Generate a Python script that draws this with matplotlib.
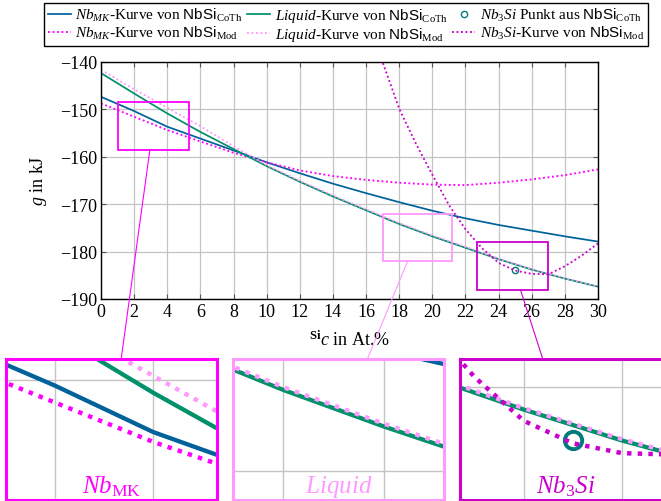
import numpy as np
import matplotlib
matplotlib.use("Agg")
import matplotlib.pyplot as plt
from matplotlib.patches import Rectangle
from matplotlib.lines import Line2D
from matplotlib.ticker import MultipleLocator

plt.rcParams['font.family'] = ['Liberation Serif', 'DejaVu Serif']
plt.rcParams['mathtext.fontset'] = 'custom'
plt.rcParams['mathtext.rm'] = 'Liberation Serif'
plt.rcParams['mathtext.it'] = 'Liberation Serif:italic'
plt.rcParams['mathtext.bf'] = 'Liberation Serif:bold'
plt.rcParams['mathtext.sf'] = 'Liberation Sans'

# ---------------- data ----------------
x = [0, 2, 4, 6, 8, 10, 12, 14, 16, 18, 20, 22, 24, 26, 28, 30]
nbmk_coth = [-147.4, -150.4, -153.7, -156.2, -158.7, -161.2, -163.5, -165.7,
             -167.7, -169.6, -171.4, -173.0, -174.4, -175.6, -176.8, -177.9]
liquid_coth = [-142.4, -146.7, -150.9, -154.8, -158.4, -162.0, -165.3, -168.4,
               -171.3, -174.2, -176.8, -179.2, -181.6, -183.8, -185.7, -187.4]
nbmk_mod = [-148.8, -151.6, -154.4, -156.8, -159.2, -161.2, -162.9, -164.1,
            -164.9, -165.5, -165.9, -166.0, -165.5, -164.8, -163.9, -162.7]
liquid_mod = [-141.7, -145.8, -149.7, -153.6, -157.8, -161.8, -165.1, -168.2,
              -171.1, -174.0, -176.6, -179.0, -181.5, -183.7, -185.6, -187.4]
x_nb3si = [16, 17, 18, 19, 20, 21, 22, 23, 24, 25, 26, 27, 28, 29, 30]
nb3si_mod = [-129.5, -140.1, -149.9, -157.2, -163.8, -170.2, -175.3, -179.3,
             -182.4, -184.0, -184.7, -184.8, -183.1, -180.9, -178.3]
nb3si_point_x = [25.0]
nb3si_point_y = [-183.8]

xticks = list(range(0, 31, 2))
yticks = [-190, -180, -170, -160, -150, -140]

# spy regions: (x0, x1, y0, y1)
spy_regions = [(1.0, 5.3, -158.5, -148.5),
               (17.0, 21.2, -182.0, -172.0),
               (22.7, 27.0, -188.0, -178.0)]
spy_labels = [r'$Nb_{\mathrm{MK}}$', r'$\mathit{Liquid}$', r'$Nb_3Si$']

# ---------------- styles ----------------
c_blue = '#00629b'
c_green = '#00906a'
c_mag = '#ff00ff'
c_pink = '#ff99ff'
c_dmag = '#cc00cc'
c_teal = '#007b7b'
c_grid = '#c4c4c4'
dot = (0, (1, 1.4))
spy_colors = [c_mag, c_pink, c_dmag]

W, H = 661, 502
fig = plt.figure(figsize=(W / 100, H / 100), dpi=100)

def fx(px):
    return px / W

def fy(py):
    return 1 - py / H

ax = fig.add_axes([fx(101), fy(300), fx(598) - fx(101), fy(62.7) - fy(300)])


def draw_curves(a, lw_solid, lw_dot, ms, mew, labels=True):
    a.plot(x, nbmk_coth, color=c_blue, lw=lw_solid,
           label=r'$Nb_{MK}$-Kurve von $\mathsf{NbSi}_{\mathrm{CoTh}}$' if labels else None)
    a.plot(x, nbmk_mod, color=c_mag, lw=lw_dot, ls=dot,
           label=r'$Nb_{MK}$-Kurve von $\mathsf{NbSi}_{\mathrm{Mod}}$' if labels else None)
    a.plot(x, liquid_coth, color=c_green, lw=lw_solid,
           label=r'$\mathit{Liquid}$-Kurve von $\mathsf{NbSi}_{\mathrm{CoTh}}$' if labels else None)
    a.plot(x, liquid_mod, color=c_pink, lw=lw_dot, ls=dot,
           label=r'$\mathit{Liquid}$-Kurve von $\mathsf{NbSi}_{\mathrm{Mod}}$' if labels else None)
    a.plot(nb3si_point_x, nb3si_point_y, ls='none', marker='o', ms=ms,
           mfc='none', mec=c_teal, mew=mew,
           label=r'$Nb_3Si$ Punkt aus $\mathsf{NbSi}_{\mathrm{CoTh}}$' if labels else None)
    a.plot(x_nb3si, nb3si_mod, color=c_dmag, lw=lw_dot, ls=dot,
           label=r'$Nb_3Si$-Kurve von $\mathsf{NbSi}_{\mathrm{Mod}}$' if labels else None)


draw_curves(ax, 1.25, 1.35, 4.5, 1.0)
ax.set_xlim(0, 30)
ax.set_ylim(-190, -140)
ax.set_xticks(xticks)
ax.set_yticks(yticks)
ax.grid(True, color=c_grid, lw=0.9)
ax.set_axisbelow(True)
ax.tick_params(direction='in', top=True, right=True, length=3.5, width=0.8,
               labelsize=13, color='#555555', pad=3)
for s in ax.spines.values():
    s.set_linewidth(1.0)
ax.set_xlabel(r'${}^{\mathbf{Si}}c$ in At.%', fontsize=13, labelpad=7)
ax.set_ylabel(r'$g$ in kJ', fontsize=13, labelpad=8)

for (x0, x1, y0, y1), col in zip(spy_regions, spy_colors):
    ax.add_patch(Rectangle((x0, y0), x1 - x0, y1 - y0, fill=False, ec=col,
                           lw=1.3, zorder=5))

leg = ax.legend(ncol=3, loc='upper center', bbox_to_anchor=(fx(346), fy(4)),
                bbox_transform=fig.transFigure, fontsize=11, frameon=True,
                fancybox=False, edgecolor='black', framealpha=1,
                handlelength=1.5, handletextpad=0.3, columnspacing=0.3,
                labelspacing=0.05, borderpad=0.22, borderaxespad=0)
leg.get_frame().set_linewidth(1.0)

# insets
inset_x = [6, 233, 460]
insets = []
for i, ((x0, x1, y0, y1), col, lab) in enumerate(zip(spy_regions, spy_colors, spy_labels)):
    ia = fig.add_axes([fx(inset_x[i]), fy(500.5), 211 / W, 140.5 / H])
    draw_curves(ia, 3.1, 3.2, 12.5, 2.8, labels=False)
    ia.set_xlim(x0, x1)
    ia.set_ylim(y0, y1)
    ia.xaxis.set_major_locator(MultipleLocator(2))
    ia.yaxis.set_major_locator(MultipleLocator(10))
    ia.grid(True, color=c_grid, lw=1.0)
    ia.set_axisbelow(True)
    ia.tick_params(length=0, labelbottom=False, labelleft=False)
    for s in ia.spines.values():
        s.set_color(col)
        s.set_linewidth(2.2)
    ia.text(0.5, 0.05, lab, transform=ia.transAxes, ha='center', va='baseline',
            fontsize=18, color=col)
    insets.append(ia)

# connecting lines (center to center, clipped at box bottom and inset top)
fig.canvas.draw()
inv = fig.transFigure.inverted()
for (x0, x1, y0, y1), col, ia in zip(spy_regions, spy_colors, insets):
    bc = ax.transData.transform(((x0 + x1) / 2, (y0 + y1) / 2))
    bb = ax.transData.transform(((x0 + x1) / 2, y0))
    ic = ia.transAxes.transform((0.5, 0.5))
    it = ia.transAxes.transform((0.5, 1.0))
    dx, dy = ic[0] - bc[0], ic[1] - bc[1]
    t1 = (bb[1] - bc[1]) / dy
    t2 = (it[1] - bc[1]) / dy
    p1 = (bc[0] + dx * t1, bb[1])
    p2 = (bc[0] + dx * t2, it[1])
    q1 = inv.transform(p1)
    q2 = inv.transform(p2)
    fig.add_artist(Line2D([q1[0], q2[0]], [q1[1], q2[1]], color=col, lw=0.8,
                          transform=fig.transFigure))

fig.savefig('out.png', dpi=100)
